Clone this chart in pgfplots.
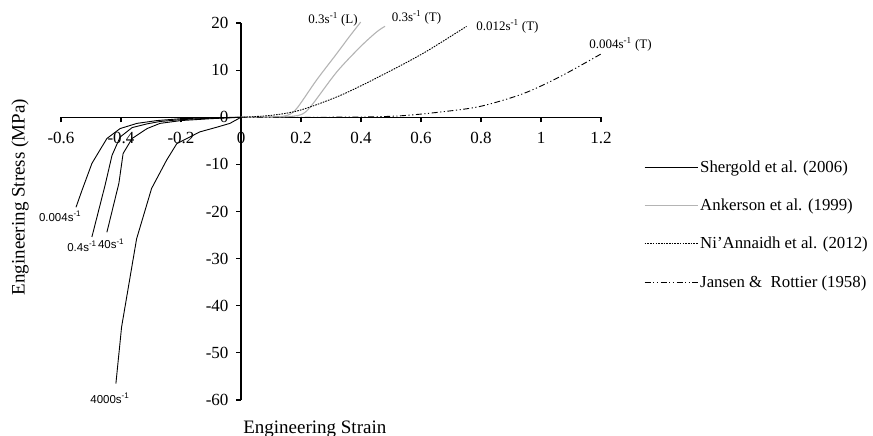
\documentclass[border=0pt]{standalone}
\usepackage{pgfplots}
\pgfplotsset{compat=1.18}
\usepackage{fontspec}
\setmainfont{Liberation Serif}
\newfontfamily\labsans{Liberation Sans}

\definecolor{ankgray}{HTML}{B4B4B4}

\begin{document}
\begin{tikzpicture}
\useasboundingbox (0bp,0bp) rectangle (873bp,-436bp);
\begin{axis}[
  at={(61bp,-400bp)}, anchor=south west,
  width=540bp, height=377bp, scale only axis,
  xmin=-0.6, xmax=1.2, ymin=-60, ymax=20,
  axis lines=middle,
  axis line style={-, line width=1.4bp, black},
  hide obscured x ticks=false, hide obscured y ticks=false,
  xtick={-0.6,-0.4,-0.2,0,0.2,0.4,0.6,0.8,1,1.2},
  xticklabels={-0.6,-0.4,-0.2,0,0.2,0.4,0.6,0.8,1,1.2},
  ytick={-60,-50,-40,-30,-20,-10,0,10,20},
  yticklabels={-60,-50,-40,-30,-20,-10,0,10,20},
  tick align=outside, major tick length=5bp,
  tick style={line width=1.1bp, black},
  ticklabel style={font=\fontsize{17bp}{20bp}\selectfont},
  xticklabel style={yshift=-6bp},
  yticklabel style={xshift=-4bp},
  every axis x label/.style={at={(axis description cs:0.470,-0.088)}, anchor=base},
  every axis y label/.style={at={(axis description cs:-0.076,0.538)}, anchor=center, rotate=90},
  label style={font=\fontsize{19bp}{22bp}\selectfont},
  xlabel={Engineering Strain},
  ylabel={Engineering Stress (MPa)},
  clip=false,
  legend style={at={(axis description cs:1.074,0.645)}, anchor=north west,
    draw=none, fill=none, font=\fontsize{16.8bp}{20bp}\selectfont,
    row sep=21bp},
  legend cell align=left,
  legend image code/.code={\draw[#1] (0bp,0bp) -- (53bp,0bp);},
  shergold/.style={black, line width=0.9bp},
  ankerson/.style={ankgray, line width=1.1bp, smooth},
  niann/.style={black, line width=0.9bp, dash pattern=on 1.6bp off 1.1bp, smooth},
  jansen/.style={black, line width=0.9bp, dash pattern=on 6bp off 2.5bp on 1.2bp off 2.5bp on 1.2bp off 2.5bp, smooth},
]

% Shergold et al. (2006), compression at four strain rates
\addplot[shergold] coordinates {
  (0,0) (-0.1,-0.1) (-0.2,-0.3) (-0.28,-0.7) (-0.347,-1.3) (-0.403,-2.4)
  (-0.447,-4.5) (-0.497,-9.8) (-0.53,-15.5) (-0.55,-19.1)};
\addlegendentry{Shergold et al. (2006)}
\addplot[shergold, forget plot] coordinates {
  (0,0) (-0.1,-0.2) (-0.2,-0.5) (-0.27,-0.9) (-0.313,-1.4) (-0.363,-2.2)
  (-0.403,-4.2) (-0.43,-8.1) (-0.453,-14.4) (-0.497,-25.4)};
\addplot[shergold, forget plot] coordinates {
  (0,0) (-0.1,-0.3) (-0.2,-0.7) (-0.27,-1.3) (-0.313,-2.4) (-0.363,-4.5)
  (-0.393,-7.7) (-0.407,-14.0) (-0.447,-24.4)};
\addplot[shergold, forget plot] coordinates {
  (0,0) (-0.037,-1.3) (-0.08,-2.1) (-0.137,-3.1) (-0.214,-5.6) (-0.248,-9.1)
  (-0.298,-15.1) (-0.348,-25.8) (-0.398,-44.5) (-0.417,-56.5)};

% Ankerson et al. (1999), tension, L and T directions
\addplot[ankerson] coordinates {
  (0,0) (0.1,0.05) (0.14,0.2) (0.165,0.7) (0.19,2.2) (0.252,7.9)
  (0.319,13.5) (0.36,17.0) (0.399,20.2)};
\addlegendentry{Ankerson et al. (1999)}
\addplot[ankerson, forget plot] coordinates {
  (0,0) (0.1,0.05) (0.17,0.2) (0.208,0.8) (0.24,2.9) (0.319,9.6)
  (0.397,14.9) (0.452,18.1) (0.48,19.3)};

% Ni'Annaidh et al. (2012)
\addplot[niann] coordinates {
  (0,0) (0.1,0.4) (0.197,1.5) (0.33,4.6) (0.463,8.7) (0.608,13.6) (0.752,19.3)};
\addlegendentry{Ni'Annaidh et al. (2012)}

% Jansen & Rottier (1958)
\addplot[jansen] coordinates {
  (0,0) (0.2,0) (0.4,0.05) (0.53,0.3) (0.663,1.1) (0.797,2.3) (0.94,5.0)
  (1.063,8.6) (1.202,13.5)};
\addlegendentry{Jansen \& \ Rottier (1958)}

% strain-rate annotations
\begin{scope}[every node/.style={font=\labsans\fontsize{11.5bp}{13bp}\selectfont, inner sep=0pt}]
\node at (axis cs:-0.603,-21.0) {0.004s\textsuperscript{-1}};
\node at (axis cs:-0.53,-27.4) {0.4s\textsuperscript{-1}};
\node at (axis cs:-0.433,-26.8) {40s\textsuperscript{-1}};
\node at (axis cs:-0.437,-59.6) {4000s\textsuperscript{-1}};
\end{scope}
\begin{scope}[every node/.style={font=\fontsize{13bp}{15bp}\selectfont, inner sep=0pt}]
\node at (axis cs:0.307,20.8) {0.3s\textsuperscript{-1} (L)};
\node at (axis cs:0.585,21.2) {0.3s\textsuperscript{-1} (T)};
\node at (axis cs:0.888,19.3) {0.012s\textsuperscript{-1} (T)};
\node at (axis cs:1.265,15.5) {0.004s\textsuperscript{-1} (T)};
\end{scope}
\end{axis}
\end{tikzpicture}
\end{document}
